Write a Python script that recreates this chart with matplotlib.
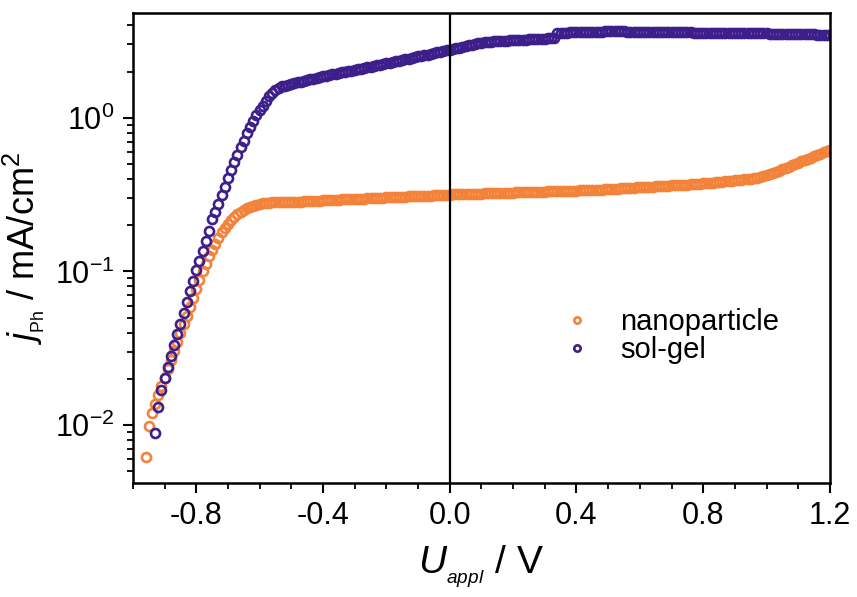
import matplotlib
matplotlib.use("Agg")
import matplotlib.pyplot as plt
import numpy as np

plt.rcParams['font.family'] = ['Liberation Sans', 'DejaVu Sans']
plt.rcParams['mathtext.fontset'] = 'custom'
plt.rcParams['mathtext.rm'] = 'Liberation Sans'
plt.rcParams['mathtext.it'] = 'Liberation Sans:italic'

# photocurrent density (mA/cm2), sweep in 10 mV steps
nano_start = -0.96
nano_j = [
    0.0062, 0.0098, 0.0120, 0.0137, 0.0157, 0.0179, 0.0204, 0.0233, 0.0266, 0.0303,
    0.0347, 0.0395, 0.0452, 0.0515, 0.0589, 0.0672, 0.0767, 0.0875, 0.100, 0.112,
    0.126, 0.138, 0.151, 0.166, 0.180, 0.193, 0.204, 0.216, 0.226, 0.236,
    0.244, 0.251, 0.257, 0.263, 0.268, 0.272, 0.275, 0.278, 0.280, 0.281,
    0.282, 0.282, 0.283, 0.283, 0.283, 0.284, 0.284, 0.284, 0.285, 0.285,
    0.286, 0.286, 0.287, 0.288, 0.288, 0.289, 0.290, 0.290, 0.291, 0.292,
    0.292, 0.293, 0.294, 0.294, 0.295, 0.296, 0.296, 0.297, 0.298, 0.298,
    0.299, 0.300, 0.300, 0.301, 0.302, 0.302, 0.303, 0.304, 0.304, 0.305,
    0.306, 0.306, 0.307, 0.308, 0.308, 0.309, 0.310, 0.310, 0.311, 0.312,
    0.312, 0.313, 0.314, 0.314, 0.315, 0.315, 0.316,
    0.317, 0.317, 0.318, 0.318, 0.319, 0.319, 0.320, 0.320, 0.321, 0.321,
    0.322, 0.322, 0.323, 0.323, 0.324, 0.324, 0.325, 0.325, 0.326, 0.326,
    0.327, 0.327, 0.328, 0.328, 0.329, 0.329, 0.330, 0.330, 0.331, 0.331,
    0.332, 0.332, 0.333, 0.333, 0.334, 0.334, 0.335, 0.335, 0.336, 0.336,
    0.337, 0.337, 0.338, 0.338, 0.339, 0.339, 0.340,
    0.341, 0.342, 0.343, 0.344, 0.345, 0.346, 0.347, 0.348, 0.349, 0.350,
    0.351, 0.352, 0.353, 0.354, 0.355, 0.356, 0.357, 0.358, 0.359, 0.360,
    0.361, 0.362, 0.363, 0.364, 0.365, 0.366,
    0.367, 0.368, 0.369, 0.370, 0.371, 0.372, 0.374, 0.375, 0.377, 0.378,
    0.380, 0.382, 0.384, 0.386, 0.388, 0.390, 0.392, 0.394, 0.396, 0.398,
    0.400, 0.402, 0.404, 0.407, 0.410,
    0.416, 0.422, 0.429, 0.436, 0.444, 0.452, 0.461, 0.470, 0.480, 0.490,
    0.500, 0.510,
    0.520, 0.530, 0.540, 0.551, 0.562, 0.573, 0.584, 0.596, 0.608, 0.620,
]

solgel_start = -0.93
solgel_j = [
    0.0089, 0.0132, 0.0170, 0.0204, 0.0240, 0.0282, 0.0331, 0.0389, 0.0457, 0.0537,
    0.0631, 0.0741, 0.0871, 0.102, 0.117, 0.135, 0.158, 0.182, 0.219, 0.245,
    0.275, 0.316, 0.355, 0.407, 0.457, 0.513, 0.575, 0.646, 0.708, 0.794,
    0.871, 0.955, 1.05, 1.12, 1.20, 1.29, 1.38, 1.45, 1.51, 1.57,
    1.60, 1.62, 1.64, 1.66, 1.68, 1.70, 1.72, 1.74, 1.76, 1.78,
    1.80, 1.82, 1.84, 1.86, 1.88, 1.91, 1.92, 1.94, 1.96, 1.98,
    2.00, 2.01, 2.03, 2.05, 2.07, 2.09, 2.11, 2.13, 2.15, 2.17,
    2.19, 2.21, 2.23, 2.26, 2.28, 2.31, 2.33, 2.35, 2.38, 2.40,
    2.43, 2.45, 2.48, 2.51, 2.53, 2.56, 2.58, 2.61, 2.64, 2.67,
    2.69, 2.72, 2.75, 2.77, 2.81, 2.83, 2.86, 2.90, 2.92, 2.96,
    2.99, 3.02, 3.05, 3.08, 3.10, 3.11, 3.13, 3.14, 3.16, 3.16,
    3.18, 3.18, 3.19, 3.20, 3.21, 3.21, 3.22, 3.23, 3.24, 3.24,
    3.25, 3.27, 3.27, 3.28, 3.29, 3.30, 3.31, 3.57, 3.58,
    3.59, 3.59, 3.60, 3.60, 3.61, 3.61, 3.62, 3.62, 3.63, 3.63,
    3.64, 3.64, 3.64, 3.65, 3.65,
    3.65, 3.65, 3.65, 3.65, 3.65, 3.64, 3.64, 3.64, 3.64, 3.64,
    3.63, 3.63, 3.63, 3.63, 3.62, 3.62, 3.62, 3.62, 3.61, 3.61,
    3.61, 3.61, 3.60, 3.60, 3.60, 3.60, 3.59, 3.59, 3.59, 3.59,
    3.58, 3.58, 3.58, 3.58, 3.57, 3.57, 3.57, 3.57, 3.56, 3.56,
    3.56, 3.56, 3.55, 3.55, 3.55, 3.55, 3.54, 3.54, 3.54, 3.54,
    3.53, 3.53, 3.53, 3.52, 3.52, 3.52, 3.51, 3.51, 3.51, 3.50,
    3.50, 3.50, 3.49, 3.49, 3.49, 3.48, 3.48, 3.48, 3.47, 3.47,
]

labels = ['nanoparticle', 'sol-gel']
colors = ['#f3833a', '#3c1f8a']

nano_v = nano_start + 0.01 * np.arange(len(nano_j))
solgel_v = solgel_start + 0.01 * np.arange(len(solgel_j))

fig = plt.figure(figsize=(8.57, 5.97), dpi=100)
ax = fig.add_axes([0.155, 0.191, 0.8135, 0.787])

ax.plot(nano_v, nano_j, 'o', ms=6.5, mew=1.9, mfc='none', mec=colors[0], label=labels[0])
ax.plot(solgel_v, solgel_j, 'o', ms=6.5, mew=1.9, mfc='none', mec=colors[1], label=labels[1])
ax.axvline(0, color='k', lw=1.6, zorder=3)

ax.set_yscale('log')
ax.set_xlim(-1.0, 1.2)
ax.set_ylim(4.2e-3, 4.8)
ax.set_xticks([-0.8, -0.4, 0.0, 0.4, 0.8, 1.2])
ax.set_xticklabels(['-0.8', '-0.4', '0.0', '0.4', '0.8', '1.2'])
ax.set_xticks(np.arange(-1.0, 1.21, 0.1), minor=True)

ax.tick_params(which='major', direction='out', length=7, width=1.5, labelsize=22, pad=6)
ax.tick_params(which='minor', direction='out', length=4, width=1.3)
ax.tick_params(top=False, right=False, which='both')
for s in ax.spines.values():
    s.set_linewidth(1.8)

ax.set_xlabel(r'$U_{_{appl}}$ / V', fontsize=28, labelpad=9)
ax.set_ylabel(r'$j_{_{\mathrm{Ph}}}$ / mA/cm$^2$', fontsize=26, labelpad=6)

ax.legend(loc='center left', bbox_to_anchor=(0.6155, 0.313), frameon=False,
          fontsize=21, handlelength=1.0, handletextpad=1.0, labelspacing=0.0,
          borderpad=0, borderaxespad=0, markerscale=0.7)

fig.savefig('out.png', dpi=100)
